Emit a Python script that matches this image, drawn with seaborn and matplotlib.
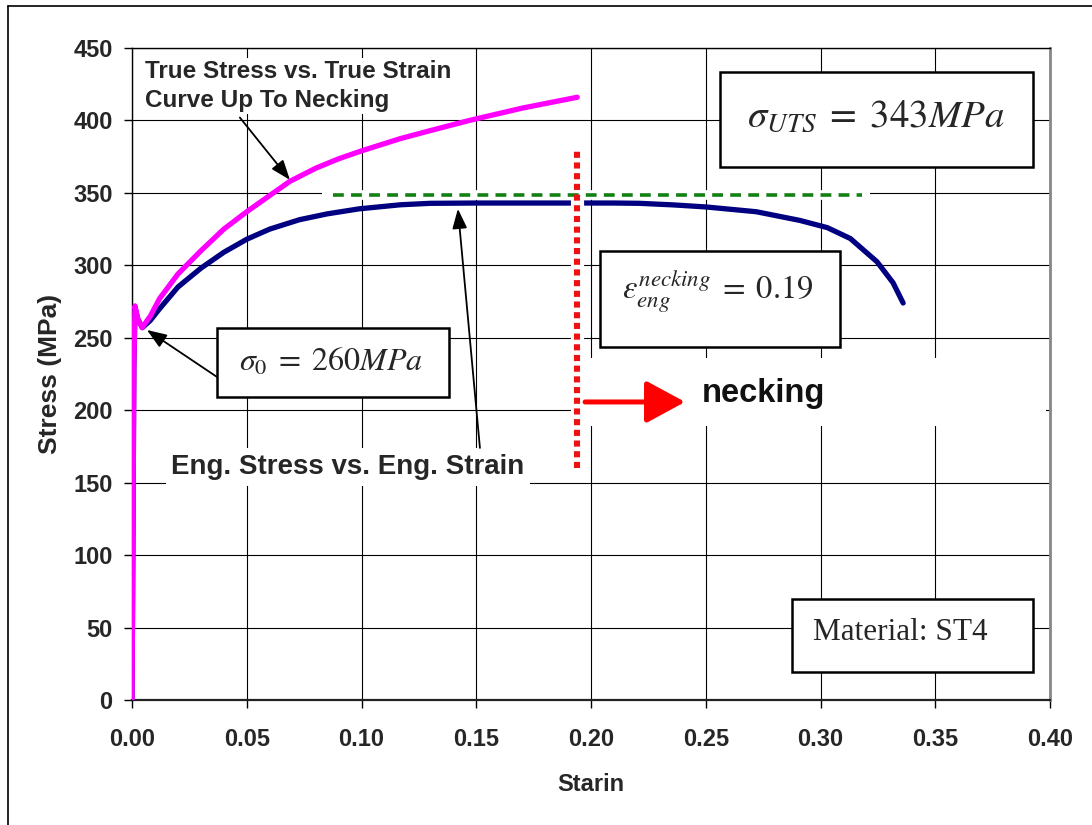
import matplotlib
matplotlib.use("Agg")
import matplotlib.pyplot as plt
import seaborn as sns
import pandas as pd
from matplotlib.patches import Rectangle
from matplotlib.lines import Line2D

# ---- data -------------------------------------------------------------
eng_strain = [0.0, 0.0004, 0.0008, 0.0013, 0.0025, 0.0045, 0.008, 0.012, 0.02, 0.03,
              0.04, 0.05, 0.06, 0.073, 0.085, 0.099, 0.117, 0.13, 0.15, 0.17,
              0.19, 0.21, 0.221, 0.236, 0.25, 0.272, 0.291, 0.303, 0.313, 0.3246,
              0.3316, 0.336]
eng_stress = [0.0, 110.0, 230.0, 271.0, 263.0, 257.0, 262.0, 270.0, 285.0, 298.0,
              309.0, 318.0, 325.0, 331.5, 335.5, 339.0, 341.8, 342.8, 343.0, 343.0,
              343.0, 343.0, 342.8, 341.7, 340.3, 337.0, 331.0, 326.0, 318.5, 302.5,
              288.0, 274.0]

true_strain = [0.0, 0.0004, 0.0008, 0.0013, 0.0025, 0.0044, 0.008, 0.012, 0.02, 0.03,
               0.04, 0.05, 0.0558, 0.0688, 0.08, 0.09, 0.10, 0.117, 0.13, 0.147,
               0.17, 0.194]
true_stress = [0.0, 110.0, 230.0, 272.0, 263.0, 257.0, 265.0, 277.0, 294.0, 310.0,
               325.0, 337.0, 343.5, 358.0, 367.0, 373.5, 379.0, 387.5, 393.0, 400.0,
               408.5, 416.0]

x_ticks = [0.00, 0.05, 0.10, 0.15, 0.20, 0.25, 0.30, 0.35, 0.40]
y_ticks = [0, 50, 100, 150, 200, 250, 300, 350, 400, 450]

uts_guide_level = 348.6          # dashed guide drawn just above the plateau
uts_guide_span = (0.0876, 0.318)
necking_x = 0.194                # dotted marker at onset of necking
necking_span = (160, 381)

# ---- figure -----------------------------------------------------------
sns.set_style("ticks")
plt.rcParams["font.family"] = ["Liberation Sans", "DejaVu Sans"]
plt.rcParams["mathtext.fontset"] = "stix"

W, H = 1092, 825
fig = plt.figure(figsize=(W / 100, H / 100), dpi=100)
fig.patch.set_facecolor("white")

X0, X1, Y0, Y1 = 132, 1050, 700, 48
ax = fig.add_axes([X0 / W, (H - Y0) / H, (X1 - X0) / W, (Y0 - Y1) / H])


def ax_frac(px, py):
    return (px - X0) / (X1 - X0), (Y0 - py) / (Y0 - Y1)


# outer frame
fig.add_artist(Line2D([8 / W, 8 / W], [0, 1 - 6 / H], transform=fig.transFigure,
                      color="black", lw=1.2))
fig.add_artist(Line2D([8 / W, 1], [1 - 6 / H, 1 - 6 / H], transform=fig.transFigure,
                      color="black", lw=1.2))

eng_df = pd.DataFrame({"strain": eng_strain, "stress": eng_stress})
true_df = pd.DataFrame({"strain": true_strain, "stress": true_stress})

sns.lineplot(data=eng_df, x="strain", y="stress", ax=ax, color="#000080",
             linewidth=3.8, estimator=None, sort=False, zorder=3,
             solid_capstyle="round", solid_joinstyle="round")
sns.lineplot(data=true_df, x="strain", y="stress", ax=ax, color="#FF00FF",
             linewidth=3.8, estimator=None, sort=False, zorder=4,
             solid_capstyle="round", solid_joinstyle="round")

ax.set_xlim(0, 0.40)
ax.set_ylim(0, 450)
ax.set_xticks(x_ticks)
ax.set_yticks(y_ticks)
ax.set_xticklabels([f"{v:.2f}" for v in x_ticks])
ax.set_yticklabels([f"{v:d}" for v in y_ticks])
ax.grid(True, color="black", linewidth=0.8)
ax.set_axisbelow(True)
ax.tick_params(axis="both", direction="out", length=6, width=1, color="black",
               labelsize=17)
ax.tick_params(axis="x", pad=14)
ax.tick_params(axis="y", pad=8)
for lab in ax.get_xticklabels() + ax.get_yticklabels():
    lab.set_fontweight("bold")
for side in ["left", "top"]:
    ax.spines[side].set_color("black")
    ax.spines[side].set_linewidth(1.0)
ax.spines["bottom"].set_color("#222222")
ax.spines["bottom"].set_linewidth(1.6)
ax.spines["right"].set_color("#888888")
ax.spines["right"].set_linewidth(2.0)

ax.set_xlabel("Starin", fontsize=17, fontweight="bold", labelpad=16)
ax.set_ylabel("Stress (MPa)", fontsize=19, fontweight="bold", labelpad=8)

# UTS dashed guide on a white band
ax.plot([0.0828, 0.3216], [uts_guide_level] * 2, color="white", lw=7,
        solid_capstyle="butt", zorder=5)
ax.plot(uts_guide_span, [uts_guide_level] * 2, color="#138013", lw=2.6,
        linestyle=(0, (3.0, 2.0)), dash_capstyle="butt", zorder=6)

# necking onset marker on a white band
ax.plot([necking_x, necking_x], necking_span, color="white", lw=9.5,
        solid_capstyle="butt", zorder=5)
ax.plot([necking_x, necking_x], necking_span, color="#EE1111", lw=4.4,
        linestyle=(0, (1, 0.75)), dash_capstyle="butt", zorder=6)

# white patch behind the necking arrow and label
bx0, by0 = ax_frac(583, 426)
bx1, by1 = ax_frac(1046, 358)
ax.add_patch(Rectangle((bx0, by0), bx1 - bx0, by1 - by0, transform=ax.transAxes,
                       facecolor="white", edgecolor="none", zorder=5))
ax.annotate("", xy=(0.241, 205.7), xytext=(0.1974, 205.7),
            arrowprops=dict(arrowstyle="-|>,head_length=2.4,head_width=1.3",
                            mutation_scale=10, color="#FF0000", lw=3.6,
                            shrinkA=0, shrinkB=0), zorder=7)
ax.text(0.2484, 205.7, "necking", fontsize=23.5, fontweight="bold", color="#111111",
        ha="left", va="baseline", zorder=7)

# curve captions
ax.text(*ax_frac(145, 86), "True Stress vs. True Strain\nCurve Up To Necking",
        transform=ax.transAxes, fontsize=17.5, fontweight="bold", ha="left",
        va="center", linespacing=1.3, zorder=6,
        bbox=dict(facecolor="white", edgecolor="none", pad=2))
ax.text(*ax_frac(348, 467), "Eng. Stress vs. Eng. Strain", transform=ax.transAxes,
        fontsize=20, fontweight="bold", ha="center", va="center", zorder=6,
        bbox=dict(facecolor="white", edgecolor="none", pad=4))

arrow_kw = dict(arrowstyle="-|>,head_length=1.2,head_width=0.45", mutation_scale=10,
                color="black", lw=1.3, shrinkA=0, shrinkB=0)
ax.annotate("", xy=(0.0688, 359), xytext=(0.047, 402), arrowprops=arrow_kw, zorder=7)
ax.annotate("", xy=(0.142, 339), xytext=(0.1516, 174), arrowprops=arrow_kw, zorder=7)
ax.annotate("", xy=(0.0065, 255.4), xytext=(0.037, 223), arrowprops=arrow_kw, zorder=7)


# framed formula boxes
def framed(px0, py0, px1, py1, text, tx, ty, size, ha="center", family=None):
    fx0, fy0 = ax_frac(px0, py1)
    fx1, fy1 = ax_frac(px1, py0)
    ax.add_patch(Rectangle((fx0, fy0), fx1 - fx0, fy1 - fy0, transform=ax.transAxes,
                           facecolor="white", edgecolor="black", lw=1.8, zorder=8,
                           clip_on=False))
    kw = {}
    if family:
        kw["family"] = family
    ax.text(*ax_frac(tx, ty), text, transform=ax.transAxes, fontsize=size, ha=ha,
            va="center", zorder=9, **kw)


framed(720, 72, 1033, 167, r"$\sigma_{UTS}\;=\;343MPa$", 876, 117, 28)
framed(600, 251, 840, 347, r"$\varepsilon_{eng}^{necking}\;=\;0.19$", 718, 292, 23.5)
framed(217, 328, 449, 397, r"$\sigma_{0}\;=\;260MPa$", 331, 362, 23)
framed(792, 599, 1033, 672, "Material: ST4", 813, 632, 22.5, ha="left",
       family="Liberation Serif")

fig.savefig("out.png", dpi=100, facecolor="white")
